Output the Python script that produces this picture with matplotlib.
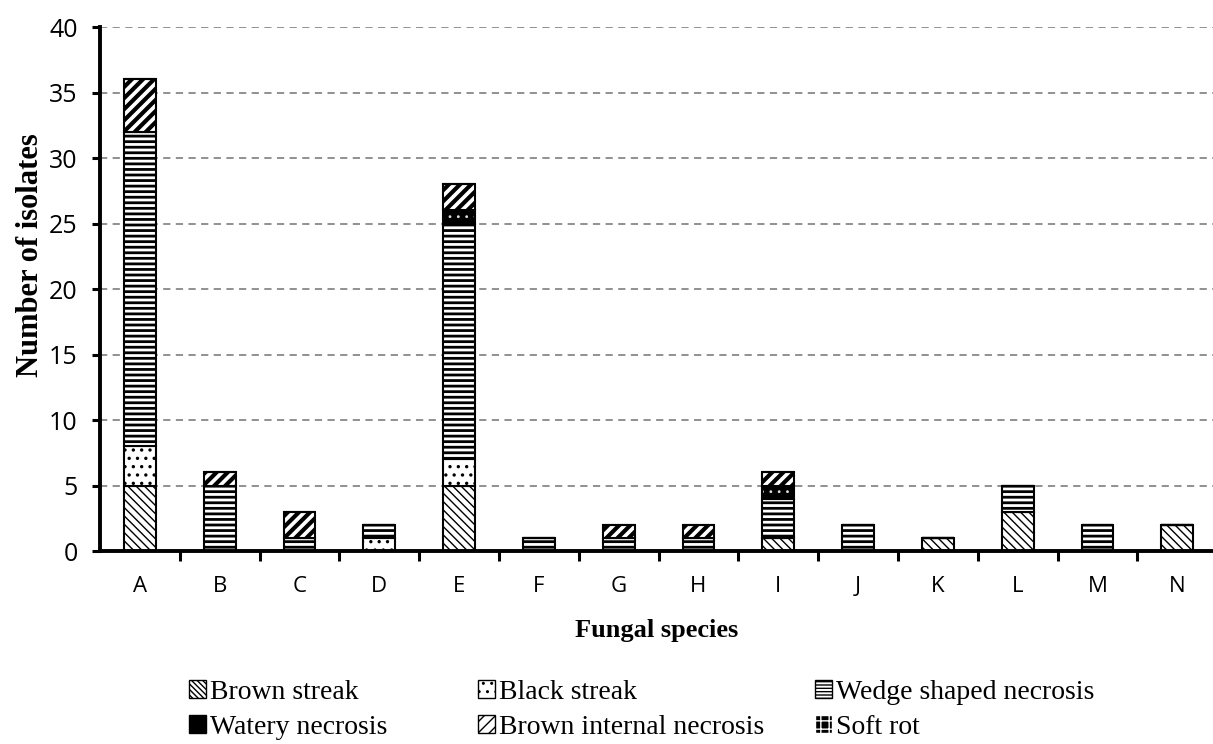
import numpy as np
import matplotlib
matplotlib.use("Agg")
import matplotlib.pyplot as plt
from matplotlib.patches import Patch

species = ["A", "B", "C", "D", "E", "F", "G", "H", "I", "J", "K", "L", "M", "N"]

brown_streak = [5, 0, 0, 0, 5, 0, 0, 0, 1, 0, 1, 3, 0, 2]
black_streak = [3, 0, 0, 1, 2, 0, 0, 0, 0, 0, 0, 0, 0, 0]
wedge_necrosis = [24, 5, 1, 1, 18, 1, 1, 1, 3, 2, 0, 2, 2, 0]
watery_necrosis = [0, 0, 0, 0, 1, 0, 0, 0, 1, 0, 0, 0, 0, 0]
brown_internal = [4, 1, 2, 0, 2, 0, 1, 1, 1, 0, 0, 0, 0, 0]
soft_rot = [0, 0, 0, 0, 0, 0, 0, 0, 0, 0, 0, 0, 0, 0]

fig = plt.figure(figsize=(12.13, 7.44), dpi=100)
ax = fig.add_axes([0.0824, 0.2594, 0.9176, 0.7043])

x = np.arange(len(species))
w = 0.4
bottom = np.zeros(len(species))

# brown streak
with plt.rc_context({"hatch.linewidth": 1.0}):
    ax.bar(x, brown_streak, w, bottom=bottom, facecolor="white", edgecolor="black",
           hatch="\\\\\\\\", linewidth=1.5)
bottom += brown_streak

# black streak
with plt.rc_context({"hatch.linewidth": 1.2}):
    ax.bar(x, black_streak, w, bottom=bottom, facecolor="white", edgecolor="black",
           hatch="..", linewidth=1.5)
bottom += black_streak

# wedge shaped necrosis
with plt.rc_context({"hatch.linewidth": 2.0}):
    ax.bar(x, wedge_necrosis, w, bottom=bottom, facecolor="white", edgecolor="black",
           hatch="---", linewidth=1.5)
bottom += wedge_necrosis

# watery necrosis: black with sparse white dots
with plt.rc_context({"hatch.linewidth": 0.8}):
    ax.bar(x, watery_necrosis, w, bottom=bottom, facecolor="black", edgecolor="#dddddd",
           hatch="..", linewidth=0)
ax.bar(x, watery_necrosis, w, bottom=bottom, fill=False, edgecolor="black", linewidth=1.5)
bottom += watery_necrosis

# brown internal necrosis
with plt.rc_context({"hatch.linewidth": 3.0}):
    ax.bar(x, brown_internal, w, bottom=bottom, facecolor="white", edgecolor="black",
           hatch="///", linewidth=1.5)
bottom += brown_internal

# soft rot
ax.bar(x, soft_rot, w, bottom=bottom, facecolor="black", edgecolor="black", linewidth=1.5)

ax.set_xlim(-0.5, 13.447)
ax.set_ylim(0, 40)
ax.set_yticks(np.arange(0, 41, 5))
ax.yaxis.grid(True, linestyle=(0, (4, 3)), color="#888888", linewidth=1.3)
ax.set_axisbelow(True)

ax.set_xticks(x)
ax.set_xticklabels(species, fontname="Open Sans", fontsize=16)
ax.set_xticks(np.arange(0.5, 13, 1), minor=True)
ax.tick_params(axis="x", which="major", length=0, pad=18)
ax.tick_params(axis="x", which="minor", length=7, width=2.2, direction="out")
ax.tick_params(axis="y", length=6, width=2.2, direction="out", pad=10)
for lab in ax.get_yticklabels():
    lab.set_fontname("Open Sans")
    lab.set_fontsize(18)

for s in ["top", "right"]:
    ax.spines[s].set_visible(False)
for s in ["left", "bottom"]:
    ax.spines[s].set_linewidth(2.8)

ax.set_xlabel("Fungal species", fontname="Liberation Serif", fontweight="bold",
              fontsize=19, labelpad=16)
ax.set_ylabel("Number of isolates", fontname="Liberation Serif", fontweight="bold",
              fontsize=22)
ax.yaxis.set_label_coords(-0.049, 0.565)

# legend handles
with plt.rc_context({"hatch.linewidth": 1.0}):
    h_brown = Patch(facecolor="white", edgecolor="black", hatch="\\\\\\\\\\\\", label="Brown streak")
with plt.rc_context({"hatch.linewidth": 1.5}):
    h_black = Patch(facecolor="white", edgecolor="black", hatch="..", label="Black streak")
with plt.rc_context({"hatch.linewidth": 1.5}):
    h_wedge = Patch(facecolor="white", edgecolor="black", hatch="-----", label="Wedge shaped necrosis")
h_watery = Patch(facecolor="black", edgecolor="black", label="Watery necrosis")
with plt.rc_context({"hatch.linewidth": 2.0}):
    h_internal = Patch(facecolor="white", edgecolor="black", hatch="///", label="Brown internal necrosis")
with plt.rc_context({"hatch.linewidth": 2.0}):
    h_soft = Patch(facecolor="black", edgecolor="white", hatch="++", label="Soft rot")

# one legend per column so each column starts where it does in the original
columns = [([h_brown, h_watery], 0.156), ([h_black, h_internal], 0.394),
           ([h_wedge, h_soft], 0.672)]
for hs, xpos in columns:
    fig.legend(handles=hs, loc="upper left", bbox_to_anchor=(xpos, 0.086),
               frameon=False, prop={"family": "Liberation Serif", "size": 20},
               handlelength=0.6, handleheight=0.6, handletextpad=0.15,
               labelspacing=0.36, borderpad=0, borderaxespad=0)

fig.savefig("out.png", dpi=100)
